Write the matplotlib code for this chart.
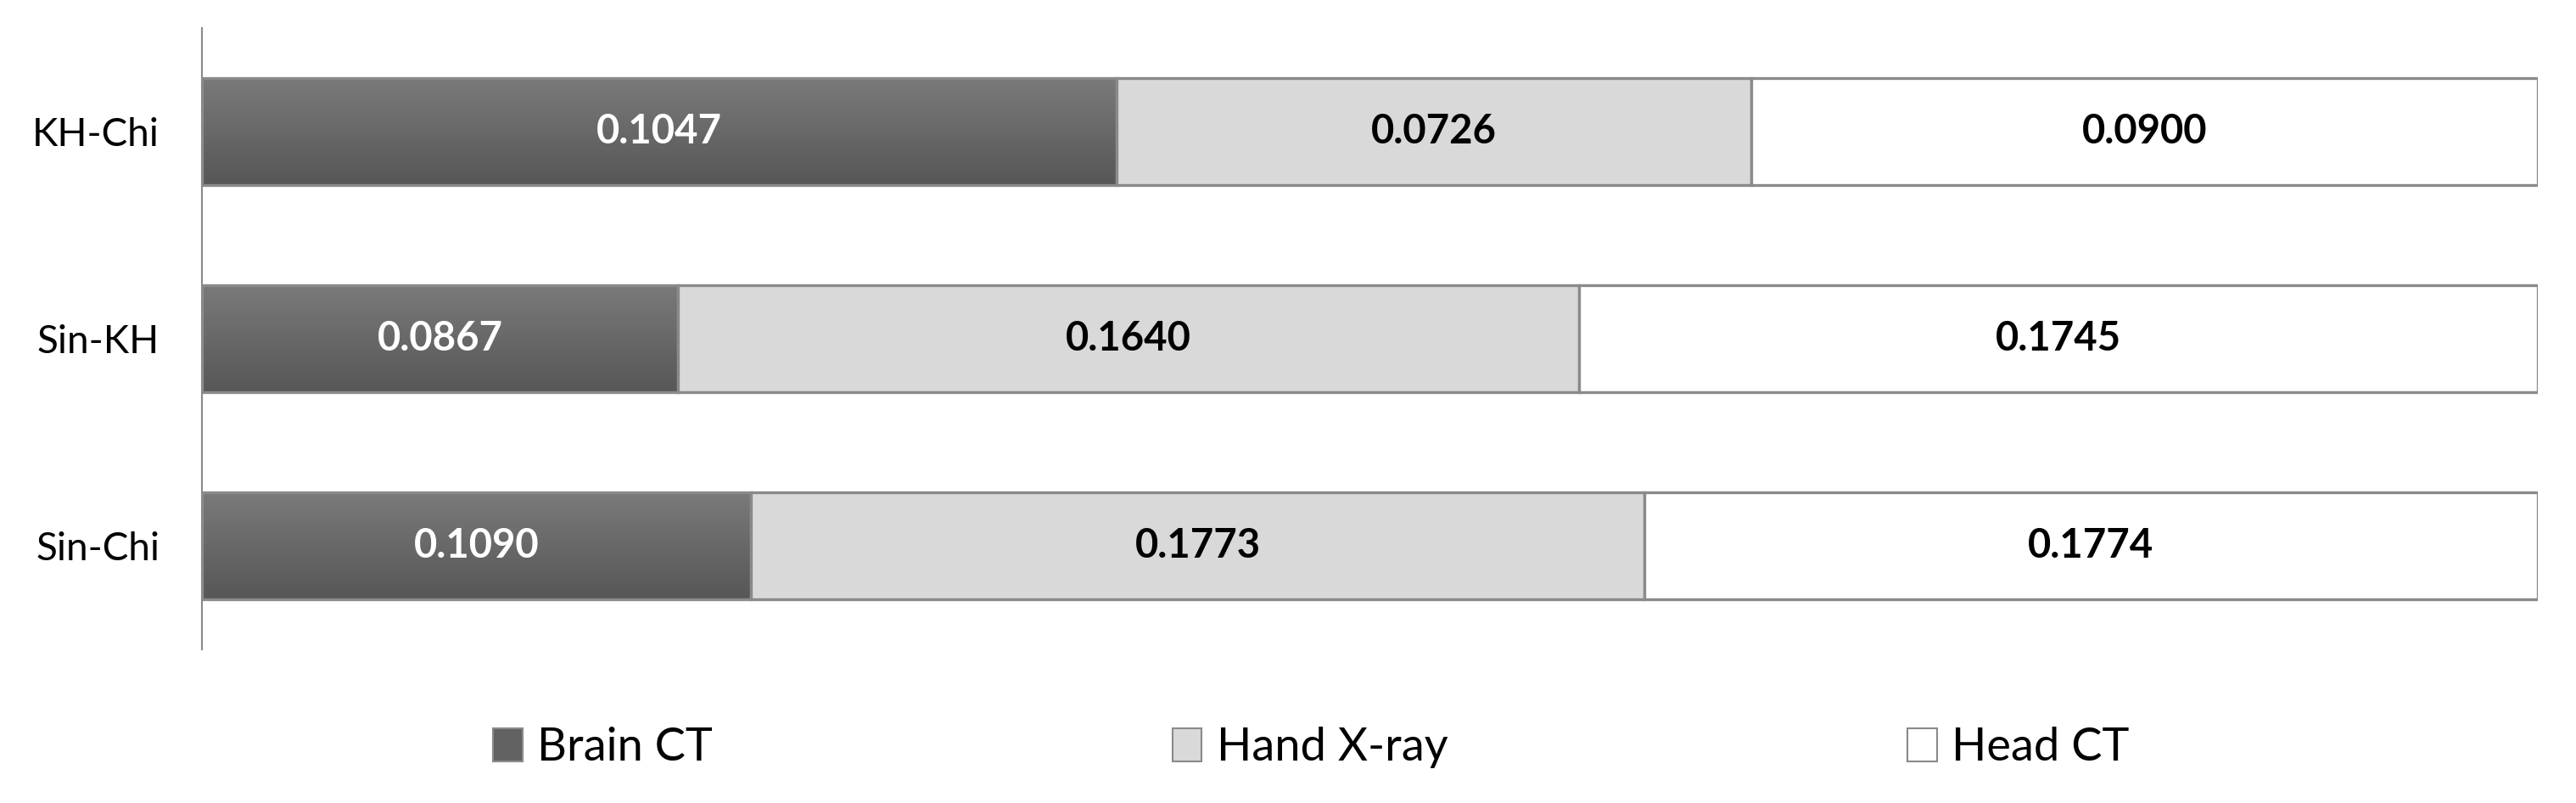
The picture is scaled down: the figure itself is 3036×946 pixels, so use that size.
"""100% stacked bar chart of three modalities across translation pairs."""

import numpy as np
import matplotlib
matplotlib.use("Agg")
import matplotlib.pyplot as plt
from matplotlib.patches import Patch

plt.rcParams["font.family"] = ["Lato", "DejaVu Sans"]

pairs = ["KH-Chi", "Sin-KH", "Sin-Chi"]
series = ["Brain CT", "Hand X-ray", "Head CT"]
brain_ct = [0.1047, 0.0867, 0.1090]
hand_xray = [0.0726, 0.1640, 0.1773]
head_ct = [0.0900, 0.1745, 0.1774]

faces = ["none", "#d9d9d9", "#ffffff"]
text_colors = ["white", "black", "black"]
edge = "#8a8a8a"
bar_h = 0.52

fig = plt.figure(figsize=(30.36, 9.46), dpi=100)
ax = fig.add_axes([0.0784, 0.1913, 0.9068, 0.7738])

values = np.array([brain_ct, hand_xray, head_ct])
shares = values / values.sum(axis=0)
y = np.arange(len(pairs))
left = np.zeros(len(pairs))

grad = np.linspace(0, 1, 64).reshape(-1, 1)
dark = matplotlib.colors.LinearSegmentedColormap.from_list("dark", ["#7a7a7a", "#575757"])

for k, name in enumerate(series):
    ax.barh(y, shares[k], left=left, height=bar_h, color=faces[k],
            edgecolor=edge, linewidth=2.4, zorder=3)
    if k == 0:
        for yi, w in zip(y, shares[k]):
            ax.imshow(grad, cmap=dark, aspect="auto", zorder=2,
                      extent=[0, w, yi + bar_h / 2, yi - bar_h / 2])
    for yi, l, w, v in zip(y, left, shares[k], values[k]):
        ax.text(l + w / 2, yi, f"{v:.4f}", ha="center", va="center",
                color=text_colors[k], fontsize=34, fontweight="bold", zorder=4)
    left += shares[k]

ax.set_xlim(0, 1)
ax.set_ylim(2.5, -0.5)
ax.set_yticks(y)
ax.set_yticklabels(pairs, fontsize=33)
ax.tick_params(axis="y", length=0, pad=36)
ax.set_xticks([])
for s in ["top", "right", "bottom"]:
    ax.spines[s].set_visible(False)
ax.spines["left"].set_color(edge)
ax.spines["left"].set_linewidth(1.5)

handles = [Patch(facecolor="#626262", edgecolor=edge, linewidth=1.5),
           Patch(facecolor="#d9d9d9", edgecolor=edge, linewidth=1.5),
           Patch(facecolor="white", edgecolor=edge, linewidth=1.5)]
fig.legend(handles, series, loc="center", bbox_to_anchor=(0.509, 0.069), ncol=3,
           frameon=False, fontsize=39, handlelength=0.64, handleheight=0.73,
           handletextpad=0.32, columnspacing=10.0)

fig.savefig("out.png", dpi=100)
